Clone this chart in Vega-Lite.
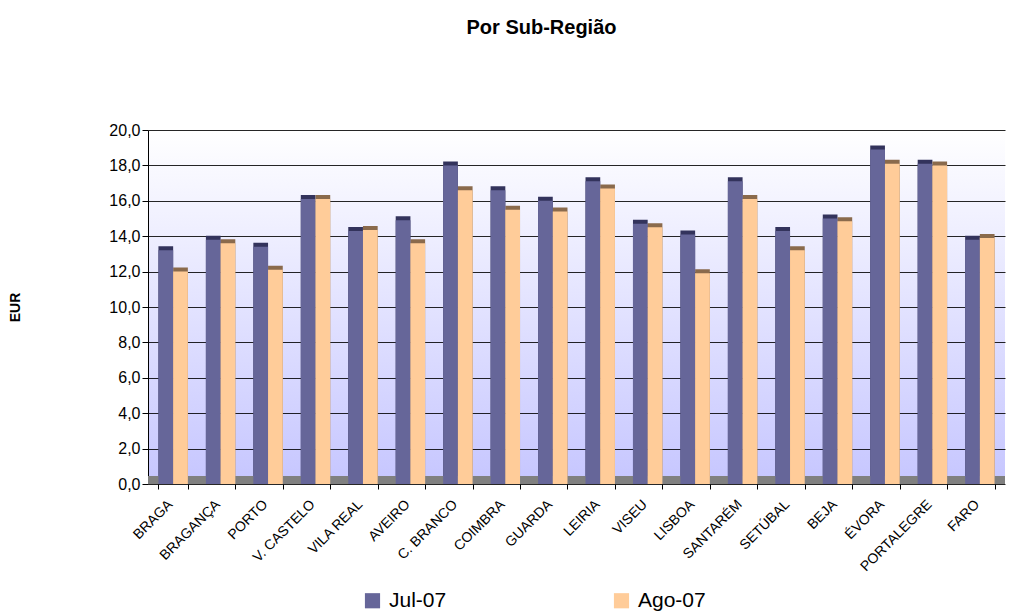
{
  "$schema": "https://vega.github.io/schema/vega-lite/v6.json",
  "width": 857,
  "height": 354,
  "autosize": {"type": "none"},
  "padding": {"left": 148, "top": 130, "right": 5, "bottom": 127},
  "background": "white",
  "config": {
    "font": "Liberation Sans",
    "view": {"stroke": null, "fill": {"gradient": "linear", "x1": 0, "y1": 0, "x2": 0, "y2": 1, "stops": [{"offset": 0, "color": "#ffffff"}, {"offset": 1, "color": "#c6c6ff"}]}},
    "axis": {"labelFont": "Liberation Sans", "titleFont": "Liberation Sans", "labelColor": "black", "titleColor": "black", "domainColor": "black", "tickColor": "black", "gridColor": "black"},
    "axisY": {"title": "EUR", "titleFontSize": 14, "titleFontWeight": "bold", "titleX": -126, "titleY": 177, "titleAngle": -90, "values": [0, 2, 4, 6, 8, 10, 12, 14, 16, 18, 20], "tickCount": 10, "labelExpr": "replace(format(datum.value, '.1f'), '.', ',')", "labelFontSize": 16, "labelOverlap": false, "tickSize": 6, "grid": true, "gridWidth": 1, "gridOpacity": 0.85}
  },
  "title": {"text": "Por Sub-Região", "fontSize": 20, "fontWeight": "bold", "font": "Liberation Sans", "anchor": "middle", "offset": 84, "dx": -35, "color": "black"},
  "datasets": {
    "main": [
      {"regiao": "BRAGA", "serie": "Jul-07", "valor": 13.2},
      {"regiao": "BRAGA", "serie": "Ago-07", "valor": 12.0},
      {"regiao": "BRAGANÇA", "serie": "Jul-07", "valor": 13.8},
      {"regiao": "BRAGANÇA", "serie": "Ago-07", "valor": 13.6},
      {"regiao": "PORTO", "serie": "Jul-07", "valor": 13.4},
      {"regiao": "PORTO", "serie": "Ago-07", "valor": 12.1},
      {"regiao": "V. CASTELO", "serie": "Jul-07", "valor": 16.1},
      {"regiao": "V. CASTELO", "serie": "Ago-07", "valor": 16.1},
      {"regiao": "VILA REAL", "serie": "Jul-07", "valor": 14.3},
      {"regiao": "VILA REAL", "serie": "Ago-07", "valor": 14.35},
      {"regiao": "AVEIRO", "serie": "Jul-07", "valor": 14.9},
      {"regiao": "AVEIRO", "serie": "Ago-07", "valor": 13.6},
      {"regiao": "C. BRANCO", "serie": "Jul-07", "valor": 18.0},
      {"regiao": "C. BRANCO", "serie": "Ago-07", "valor": 16.6},
      {"regiao": "COIMBRA", "serie": "Jul-07", "valor": 16.6},
      {"regiao": "COIMBRA", "serie": "Ago-07", "valor": 15.5},
      {"regiao": "GUARDA", "serie": "Jul-07", "valor": 16.0},
      {"regiao": "GUARDA", "serie": "Ago-07", "valor": 15.4},
      {"regiao": "LEIRIA", "serie": "Jul-07", "valor": 17.1},
      {"regiao": "LEIRIA", "serie": "Ago-07", "valor": 16.7},
      {"regiao": "VISEU", "serie": "Jul-07", "valor": 14.7},
      {"regiao": "VISEU", "serie": "Ago-07", "valor": 14.5},
      {"regiao": "LISBOA", "serie": "Jul-07", "valor": 14.1},
      {"regiao": "LISBOA", "serie": "Ago-07", "valor": 11.9},
      {"regiao": "SANTARÉM", "serie": "Jul-07", "valor": 17.1},
      {"regiao": "SANTARÉM", "serie": "Ago-07", "valor": 16.1},
      {"regiao": "SETÚBAL", "serie": "Jul-07", "valor": 14.3},
      {"regiao": "SETÚBAL", "serie": "Ago-07", "valor": 13.2},
      {"regiao": "BEJA", "serie": "Jul-07", "valor": 15.0},
      {"regiao": "BEJA", "serie": "Ago-07", "valor": 14.85},
      {"regiao": "ÉVORA", "serie": "Jul-07", "valor": 18.9},
      {"regiao": "ÉVORA", "serie": "Ago-07", "valor": 18.1},
      {"regiao": "PORTALEGRE", "serie": "Jul-07", "valor": 18.1},
      {"regiao": "PORTALEGRE", "serie": "Ago-07", "valor": 18.0},
      {"regiao": "FARO", "serie": "Jul-07", "valor": 13.8},
      {"regiao": "FARO", "serie": "Ago-07", "valor": 13.9}
    ]
  },
  "layer": [
    {
      "data": {"name": "main"},
      "mark": {"type": "bar", "xOffset": 4, "yOffset": -4},
      "encoding": {
        "x": {
          "field": "regiao", "type": "nominal", "sort": null,
          "scale": {"paddingInner": 0.38, "paddingOuter": 0.22},
          "axis": {"title": null, "labelAngle": -45, "labelFontSize": 14, "tickBand": "extent", "tickSize": 5, "domain": false, "labelPadding": 8, "labelOffset": -8, "grid": false}
        },
        "xOffset": {"field": "serie", "sort": ["Jul-07", "Ago-07"]},
        "y": {"field": "valor", "type": "quantitative", "scale": {"domain": [0, 20]}, "title": "EUR"},
        "color": {"condition": {"test": "datum.serie === 'Jul-07'", "value": "#33335c"}, "value": "#8a6a4c"}
      }
    },
    {
      "data": {"values": [{"a": 1}]},
      "mark": {"type": "rect", "color": "#808080"},
      "encoding": {
        "x": {"value": 0},
        "x2": {"value": "width"},
        "y": {"datum": 0, "type": "quantitative", "title": "EUR"},
        "y2": {"datum": 0.45}
      }
    },
    {
      "data": {"name": "main"},
      "mark": {"type": "bar"},
      "encoding": {
        "x": {"field": "regiao", "type": "nominal", "sort": null},
        "xOffset": {"field": "serie", "sort": ["Jul-07", "Ago-07"]},
        "y": {"field": "valor", "type": "quantitative", "title": "EUR"},
        "color": {
          "field": "serie", "type": "nominal", "sort": ["Jul-07", "Ago-07"],
          "scale": {"domain": ["Jul-07", "Ago-07"], "range": ["#666699", "#ffcc99"]},
          "legend": {"title": null, "orient": "none", "direction": "horizontal", "legendX": 214, "legendY": 460, "symbolType": "square", "symbolSize": 230, "symbolStrokeWidth": 0, "labelFontSize": 21, "labelFont": "Liberation Sans", "labelColor": "black", "columnPadding": 164, "labelOffset": 6}
        }
      }
    }
  ]
}
